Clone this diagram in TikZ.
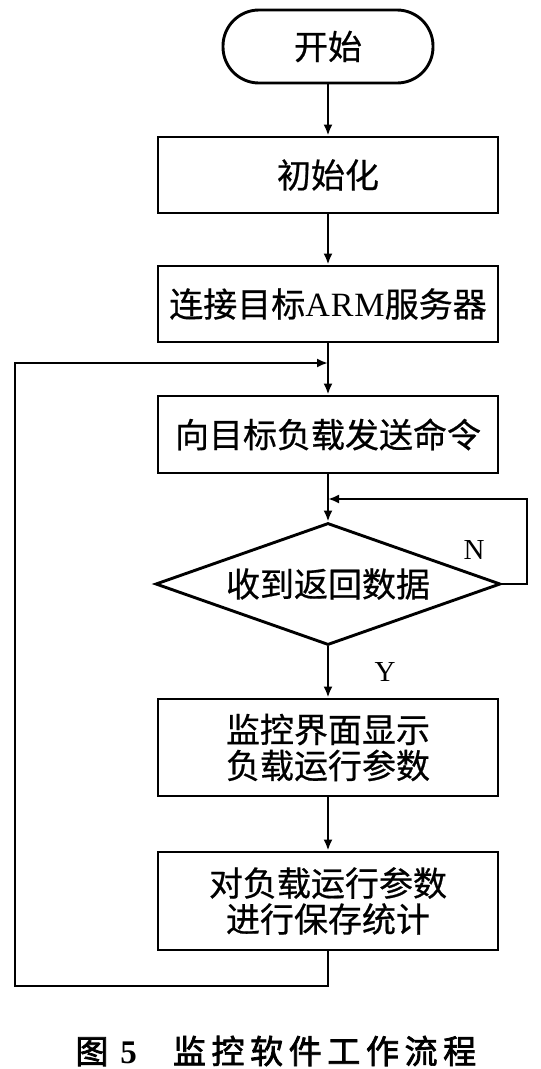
\documentclass[tikz,border=0pt]{standalone}
\usepackage{fontspec}
\setmainfont{Noto Sans CJK SC}[FakeBold=0.6]
\newfontfamily\lat{Liberation Serif}
\newfontfamily\capfont{Noto Sans CJK SC}[LetterSpace=17,FakeBold=2.2]
\usetikzlibrary{shapes.geometric,arrows.meta}
\begin{document}
\begin{tikzpicture}[x=1pt,y=-1pt,
  line width=2.9pt,
  flow/.style={draw, -{Latex[length=11pt,width=9pt]}},
  stepbox/.style={draw, rectangle, minimum width=340pt, inner sep=0pt, align=center,
    font=\fontsize{34}{36}\selectfont},
  termbox/.style={draw, rectangle, rounded corners=36pt, minimum width=210pt, minimum height=73pt,
    inner sep=0pt, font=\fontsize{34}{36}\selectfont},
  decbox/.style={draw, diamond, aspect=2.83, inner sep=0pt, minimum width=345pt, minimum height=122pt,
    font=\fontsize{34}{36}\selectfont},
  lbl/.style={font=\lat\fontsize{29}{30}\selectfont, inner sep=0pt}
]
\useasboundingbox (0,0) rectangle (541,1069);
\node[termbox] (start) at (328,46.5) {开始};
\node[stepbox, minimum height=76pt] (b1) at (328,175) {初始化};
\node[stepbox, minimum height=76pt] (b2) at (328,304) {连接目标{\lat A\kern1pt R\kern1pt M}服务器};
\node[stepbox, minimum height=77pt] (b3) at (328,434.5) {向目标负载发送命令};
\node[decbox] (d) at (328,584) {收到返回数据};
\node[stepbox, minimum height=97pt] (b4) at (328,747.5) {监控界面显示\\负载运行参数};
\node[stepbox, minimum height=98pt] (b5) at (328,901) {对负载运行参数\\进行保存统计};
\node[lbl] (n) at (474,550) {N};
\node[lbl] (y) at (385,672) {Y};
\node[font=\capfont\fontsize{33}{36}\selectfont, inner sep=0pt, anchor=west] (cap) at (74,1051) {图\kern12pt{\lat\bfseries 5}\kern36pt 监控软件工作流程};

\coordinate (jn) at (328,499);
\coordinate (nr) at (527,584);
\coordinate (nt) at (527,499);
\coordinate (jl) at (328,363);
\coordinate (lb) at (328,986);
\coordinate (lbl) at (15,986);
\coordinate (ltl) at (15,363);

\draw[flow] (start) -- (b1);
\draw[flow] (b1) -- (b2);
\draw[flow] (b2) -- (b3);
\draw[flow] (b3) -- (d);
\draw[flow] (d.east) -- (nr) -- (nt) -- (jn);
\draw[flow] (d) -- (b4);
\draw[flow] (b4) -- (b5);
\draw[flow] (b5.south) -- (lb) -- (lbl) -- (ltl) -- (jl);
\end{tikzpicture}
\end{document}
